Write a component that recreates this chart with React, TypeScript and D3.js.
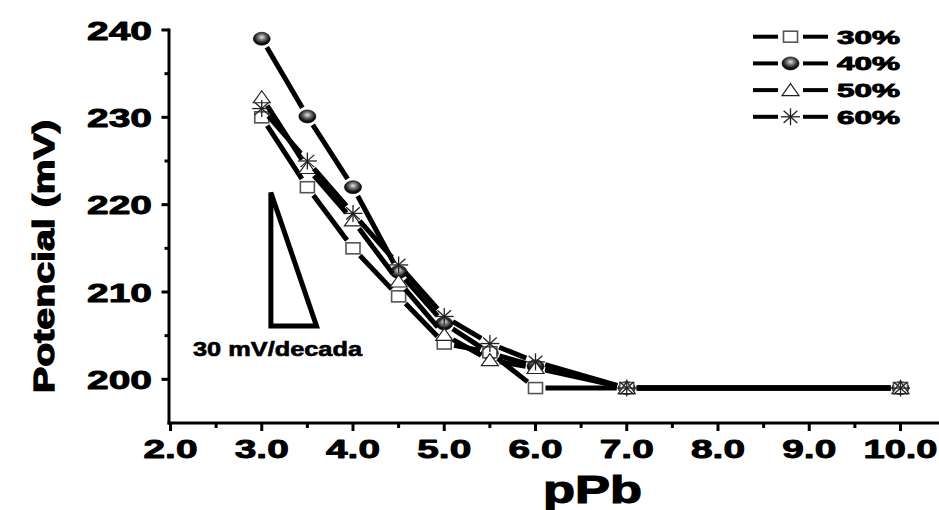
import React from "react";
import * as d3 from "d3";

const xValues = [3.0, 3.5, 4.0, 4.5, 5.0, 5.5, 6.0, 7.0, 10.0];
const series30 = [230, 222, 215, 209.5, 204.1, 203.1, 199, 199, 199];
const series40 = [239, 230.1, 222, 212.3, 206.4, 203.0, 201.5, 199, 199];
const series50 = [232.3, 224.2, 218.2, 211.2, 205.1, 202.2, 201.3, 199, 199];
const series60 = [231, 225, 219, 213.1, 207.2, 204.1, 202, 199, 199];
const seriesNames = ["30%", "40%", "50%", "60%"];
const markerKinds = ["square", "circle", "triangle", "star"];

const xTickValues = [2, 3, 4, 5, 6, 7, 8, 9, 10];
const xTickLabels = ["2.0", "3.0", "4.0", "5.0", "6.0", "7.0", "8.0", "9.0", "10.0"];
const yTickValues = [200, 210, 220, 230, 240];
const yTickLabels = ["200", "210", "220", "230", "240"];

const slopeX = [3.1, 3.1, 3.6];
const slopeY = [221.4, 206.1, 206.1];
const slopeLabel = "30 mV/decada";
const xTitle = "pPb";
const yTitle = "Potencial (mV)";

const W = 939;
const H = 510;
const FONT = "'Liberation Sans', Arial, Helvetica, sans-serif";

function Marker({ kind, cx, cy }: { kind: string; cx: number; cy: number }) {
  if (kind === "square") {
    return <rect x={cx - 7} y={cy - 5.5} width={14} height={11} fill="#fff" stroke="#555" strokeWidth={1.6} />;
  }
  if (kind === "circle") {
    return <ellipse cx={cx} cy={cy} rx={8.5} ry={6.5} fill="url(#ballGrad)" stroke="#000" strokeWidth={0.6} />;
  }
  if (kind === "triangle") {
    const p = `${cx},${cy - 6.5} ${cx + 8.5},${cy + 5.5} ${cx - 8.5},${cy + 5.5}`;
    return <polygon points={p} fill="#fff" stroke="#222" strokeWidth={1.2} />;
  }
  const rx = 9.5, ry = 8.5;
  const dx = rx * 0.72, dy = ry * 0.72;
  return (
    <g stroke="#222" strokeWidth={1.3}>
      <line x1={cx - rx} y1={cy} x2={cx + rx} y2={cy} />
      <line x1={cx} y1={cy - ry} x2={cx} y2={cy + ry} />
      <line x1={cx - dx} y1={cy - dy} x2={cx + dx} y2={cy + dy} />
      <line x1={cx - dx} y1={cy + dy} x2={cx + dx} y2={cy - dy} />
    </g>
  );
}

export default function App() {
  const x = d3.scaleLinear().domain([2, 10.4]).range([170.5, 937]);
  const y = d3.scaleLinear().domain([195, 240]).range([423, 30]);
  const allSeries = [series30, series40, series50, series60];
  const drawOrder = [1, 0, 2, 3];
  const gap = 10;

  const xMinor = d3.range(2.5, 10.4, 1);
  const yMinor = d3.range(205, 240, 10);

  const slopePath = d3.line<number>()
    .x((_, i) => x(slopeX[i]))
    .y((v) => y(v))(slopeY) + "Z";

  const heavy = { stroke: "#000", strokeWidth: 0.9, strokeLinejoin: "round" as const };

  return (
    <svg width={W} height={H} style={{ display: "block", position: "absolute", left: 0, top: 0, background: "#fff" }}>
      <defs>
        <radialGradient id="ballGrad" cx="50%" cy="40%" r="60%" fx="50%" fy="38%">
          <stop offset="0%" stopColor="#e6e6e6" />
          <stop offset="35%" stopColor="#7a7a7a" />
          <stop offset="75%" stopColor="#141414" />
          <stop offset="100%" stopColor="#000" />
        </radialGradient>
      </defs>
      <rect x={0} y={0} width={W} height={H} fill="#fff" />

      {/* axes */}
      <line x1={x(2) - 1.5} y1={y(240) - 1.5} x2={x(2) - 1.5} y2={y(195) + 1.5} stroke="#000" strokeWidth={3} />
      <line x1={x(2) - 3} y1={y(195)} x2={W} y2={y(195)} stroke="#000" strokeWidth={3} />
      {xTickValues.map((v, i) => (
        <g key={"xt" + i}>
          <line x1={x(v)} y1={y(195)} x2={x(v)} y2={y(195) + 8} stroke="#000" strokeWidth={3} />
          <text x={x(v)} y={458} textAnchor="middle" fontFamily={FONT} fontWeight="bold" fontSize={25} {...heavy}
            textLength={xTickLabels[i].length > 3 ? 74 : 54} lengthAdjust="spacingAndGlyphs">{xTickLabels[i]}</text>
        </g>
      ))}
      {xMinor.map((v, i) => (
        <line key={"xm" + i} x1={x(v)} y1={y(195)} x2={x(v)} y2={y(195) + 5} stroke="#000" strokeWidth={3} />
      ))}
      {yTickValues.map((v, i) => (
        <g key={"yt" + i}>
          <line x1={x(2) - 1.5} y1={y(v)} x2={x(2) - 9} y2={y(v)} stroke="#000" strokeWidth={3} />
          <text x={152} y={y(v) + 9.5} textAnchor="end" fontFamily={FONT} fontWeight="bold" fontSize={26} {...heavy}
            textLength={65} lengthAdjust="spacingAndGlyphs">{yTickLabels[i]}</text>
        </g>
      ))}
      {yMinor.map((v, i) => (
        <line key={"ym" + i} x1={x(2) - 1.5} y1={y(v)} x2={x(2) - 6} y2={y(v)} stroke="#000" strokeWidth={3} />
      ))}

      {/* axis titles */}
      <text x={543} y={503} fontFamily={FONT} fontWeight="bold" fontSize={39} stroke="#000" strokeWidth={1.2}
        textLength={99} lengthAdjust="spacingAndGlyphs">{xTitle}</text>
      <text transform="translate(53.5,256.5) rotate(-90)" textAnchor="middle" fontFamily={FONT} fontWeight="bold"
        fontSize={30} stroke="#000" strokeWidth={1.3}
        textLength={273} lengthAdjust="spacingAndGlyphs">{yTitle}</text>

      {/* slope annotation */}
      <path d={slopePath} fill="none" stroke="#000" strokeWidth={5} strokeLinejoin="miter" />
      <text x={193} y={356} fontFamily={FONT} fontWeight="bold" fontSize={19.5} stroke="#000" strokeWidth={0.6}
        textLength={169} lengthAdjust="spacingAndGlyphs">{slopeLabel}</text>

      {/* series */}
      {drawOrder.map((si) => {
        const vals = allSeries[si];
        const pts = vals.map((v, i) => [x(xValues[i]), y(v)]);
        const segs = [] as React.ReactNode[];
        for (let i = 0; i < pts.length - 1; i++) {
          const [x1, y1] = pts[i];
          const [x2, y2] = pts[i + 1];
          const len = Math.hypot(x2 - x1, y2 - y1);
          if (len <= 2 * gap) continue;
          const ux = (x2 - x1) / len, uy = (y2 - y1) / len;
          segs.push(
            <line key={i} x1={x1 + ux * gap} y1={y1 + uy * gap} x2={x2 - ux * gap} y2={y2 - uy * gap}
              stroke="#000" strokeWidth={5} />
          );
        }
        return (
          <g key={"s" + si}>
            {segs}
            {pts.map(([px, py], i) => <Marker key={i} kind={markerKinds[si]} cx={px} cy={py} />)}
          </g>
        );
      })}

      {/* legend */}
      {seriesNames.map((name, i) => {
        const cy = 36.7 + i * 26.7;
        return (
          <g key={"lg" + i}>
            <line x1={753} y1={cy} x2={778} y2={cy} stroke="#000" strokeWidth={4} />
            <line x1={803} y1={cy} x2={828} y2={cy} stroke="#000" strokeWidth={4} />
            <Marker kind={markerKinds[i]} cx={790.5} cy={cy} />
            <text x={837} y={cy + 7} fontFamily={FONT} fontWeight="bold" fontSize={19} {...heavy}
              textLength={63} lengthAdjust="spacingAndGlyphs">{name}</text>
          </g>
        );
      })}
    </svg>
  );
}
